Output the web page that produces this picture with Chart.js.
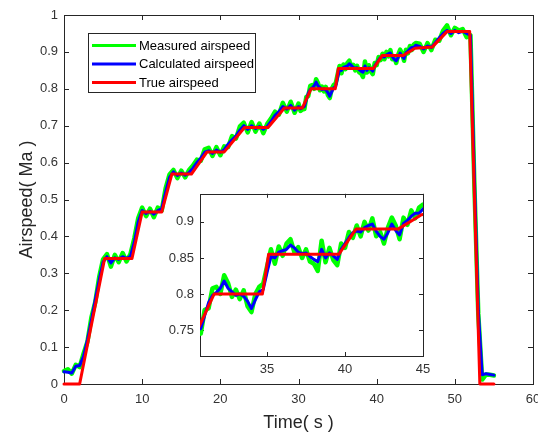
<!DOCTYPE html>
<html>
<head>
<meta charset="utf-8">
<script src="https://cdn.jsdelivr.net/npm/chart.js@4"></script>
<style>
  html, body { margin: 0; padding: 0; background: #fff; }
  #wrap { position: relative; width: 538px; height: 436px; }
  #main { position: absolute; left: 0; top: 0; }
  #zoom { position: absolute; left: 160px; top: 180px; }
</style>
</head>
<body>
<div id="wrap">
  <canvas id="main" width="538" height="436"></canvas>
  <canvas id="zoom" width="280" height="200"></canvas>
</div>
<script>
// sample times (s): 0.5 s steps, 0.25 s inside the zoomed window
const timeS = [
  0, 0.5, 1, 1.5, 2, 2.5, 3, 3.5, 4, 4.5,
  5, 5.5, 6, 6.5, 7, 7.5, 8, 8.5, 9, 9.5,
  10, 10.5, 11, 11.5, 12, 12.5, 13, 13.5, 14, 14.5,
  15, 15.5, 16, 16.5, 17, 17.5, 18, 18.5, 19, 19.5,
  20, 20.5, 21, 21.5, 22, 22.5, 23, 23.5, 24, 24.5,
  25, 25.5, 26, 26.5, 27, 27.5, 28, 28.5, 29, 29.5,
  30,
  30.25, 30.5, 30.75, 31, 31.25, 31.5, 31.75, 32, 32.25, 32.5,
  32.75, 33, 33.25, 33.5, 33.75, 34, 34.25, 34.5, 34.75, 35,
  35.25, 35.5, 35.75, 36, 36.25, 36.5, 36.75, 37, 37.25, 37.5,
  37.75, 38, 38.25, 38.5, 38.75, 39, 39.25, 39.5, 39.75, 40,
  40.25, 40.5, 40.75, 41, 41.25, 41.5, 41.75, 42, 42.25, 42.5,
  42.75, 43, 43.25, 43.5, 43.75, 44, 44.25, 44.5, 44.75, 45,
  45.5, 46, 46.5, 47, 47.5, 48, 48.5, 49, 49.5, 50,
  50.5, 51, 51.5, 52, 52.5, 53, 53.5, 54, 54.5, 55
];

const measuredMa = [
  0.035, 0.040, 0.028, 0.052, 0.046, 0.082, 0.115, 0.180, 0.222, 0.290,
  0.338, 0.352, 0.318, 0.350, 0.330, 0.355, 0.332, 0.352, 0.395, 0.450,
  0.478, 0.455, 0.475, 0.452, 0.478, 0.470, 0.530, 0.568, 0.580, 0.558,
  0.578, 0.560, 0.580, 0.592, 0.608, 0.605, 0.636, 0.640, 0.618, 0.642,
  0.620, 0.644, 0.642, 0.672, 0.665, 0.698, 0.708, 0.682, 0.710, 0.684,
  0.706, 0.680, 0.705, 0.720, 0.738, 0.730, 0.762, 0.738, 0.765, 0.735,
  0.760,
  0.740, 0.744, 0.745, 0.778, 0.780, 0.808, 0.810, 0.800, 0.826, 0.815,
  0.796, 0.806, 0.793, 0.805, 0.783, 0.775, 0.800, 0.810, 0.814, 0.838,
  0.862, 0.842, 0.866, 0.853, 0.870, 0.876, 0.858, 0.865, 0.850, 0.862,
  0.845, 0.842, 0.832, 0.874, 0.844, 0.864, 0.847, 0.840, 0.870, 0.864,
  0.886, 0.878, 0.895, 0.880, 0.900, 0.888, 0.905, 0.880, 0.886, 0.870,
  0.892, 0.906, 0.895, 0.876, 0.906, 0.896, 0.916, 0.905, 0.920, 0.924,
  0.922, 0.900, 0.924, 0.905, 0.933, 0.930, 0.958, 0.972, 0.945, 0.965,
  0.958, 0.962, 0.940, 0.945, 0.540, 0.190, 0.012, 0.026, 0.025, 0.023
];

const calculatedMa = [
  0.033, 0.032, 0.030, 0.048, 0.050, 0.075, 0.120, 0.172, 0.228, 0.282,
  0.330, 0.345, 0.328, 0.342, 0.338, 0.345, 0.340, 0.346, 0.385, 0.440,
  0.470, 0.462, 0.468, 0.460, 0.470, 0.475, 0.520, 0.560, 0.575, 0.565,
  0.572, 0.566, 0.573, 0.585, 0.600, 0.612, 0.628, 0.632, 0.625, 0.634,
  0.628, 0.635, 0.650, 0.662, 0.672, 0.688, 0.700, 0.690, 0.700, 0.692,
  0.698, 0.690, 0.698, 0.712, 0.728, 0.738, 0.752, 0.745, 0.755, 0.742,
  0.752,
  0.746, 0.750, 0.752, 0.770, 0.788, 0.798, 0.802, 0.808, 0.818, 0.808,
  0.803, 0.798, 0.800, 0.797, 0.790, 0.780, 0.792, 0.803, 0.806, 0.830,
  0.852, 0.850, 0.858, 0.860, 0.862, 0.868, 0.864, 0.858, 0.856, 0.857,
  0.852, 0.848, 0.845, 0.862, 0.850, 0.857, 0.853, 0.848, 0.862, 0.870,
  0.878, 0.885, 0.888, 0.886, 0.892, 0.895, 0.897, 0.887, 0.880, 0.876,
  0.885, 0.897, 0.888, 0.882, 0.898, 0.902, 0.908, 0.912, 0.912, 0.918,
  0.915, 0.908, 0.916, 0.912, 0.925, 0.938, 0.950, 0.958, 0.950, 0.958,
  0.952, 0.956, 0.950, 0.945, 0.560, 0.200, 0.025, 0.028, 0.026, 0.024
];

// true airspeed is piecewise linear, so only its corners are listed
const trueTimeS = [0, 2, 5.2, 8.7, 10, 12.5, 13.8, 16.3, 18.3, 20.5, 23.1, 26.1, 28.2,
  30.5, 31.6, 34.7, 35.1, 39.6, 40.7, 43.4, 44.9, 47.1, 49, 51.9, 53.2, 55];
const trueMa = [0, 0, 0.34, 0.34, 0.466, 0.466, 0.569, 0.569, 0.629, 0.629, 0.695, 0.695, 0.748,
  0.748, 0.80, 0.80, 0.855, 0.855, 0.89, 0.89, 0.91, 0.913, 0.955, 0.955, 0, 0];

const FONT = "'Liberation Sans', Arial, Helvetica, sans-serif";
Chart.defaults.font.family = FONT;
Chart.defaults.color = '#333';

const pts = (xs, ys) => xs.map((x, i) => ({ x: x, y: ys[i] }));
const trimNum = v => String(+v.toFixed(2));

function airspeedSets(clip) {
  return [
    { label: 'Measured airspeed', data: pts(timeS, measuredMa), borderColor: '#00ff00', borderWidth: 4.5, order: 2 },
    { label: 'Calculated airspeed', data: pts(timeS, calculatedMa), borderColor: '#0000ff', borderWidth: 3, order: 1 },
    { label: 'True airspeed', data: pts(trueTimeS, trueMa), borderColor: '#ff0000', borderWidth: 3, order: 0 }
  ].map(d => Object.assign(d, {
    pointRadius: 0, tension: 0, clip: clip, fill: false,
    borderJoinStyle: 'round', borderCapStyle: 'round'
  }));
}

// box round the plot area with inward ticks on all four sides
const axesBox = {
  id: 'axesBox',
  beforeDatasetsDraw(chart, args, opts) {
    const { ctx, chartArea: a, scales } = chart;
    const len = opts.tickLen || 5;
    ctx.save();
    ctx.fillStyle = '#fff';
    ctx.fillRect(a.left, a.top, a.width, a.height);
    ctx.strokeStyle = '#262626';
    ctx.lineWidth = 1;
    ctx.beginPath();
    scales.x.ticks.forEach(t => {
      const px = Math.round(scales.x.getPixelForValue(t.value)) + 0.5;
      ctx.moveTo(px, a.bottom); ctx.lineTo(px, a.bottom - len);
      ctx.moveTo(px, a.top); ctx.lineTo(px, a.top + len);
    });
    scales.y.ticks.forEach(t => {
      const py = Math.round(scales.y.getPixelForValue(t.value)) + 0.5;
      ctx.moveTo(a.left, py); ctx.lineTo(a.left + len, py);
      ctx.moveTo(a.right, py); ctx.lineTo(a.right - len, py);
    });
    ctx.stroke();
    ctx.strokeRect(Math.round(a.left) + 0.5, Math.round(a.top) + 0.5,
      Math.round(a.width), Math.round(a.height));
    ctx.restore();
  }
};

// legend box in the upper left corner of the plot
const legendBox = {
  id: 'legendBox',
  afterDraw(chart) {
    const ctx = chart.ctx;
    const x0 = 88, y0 = 33, w = 167, h = 59;
    ctx.save();
    ctx.fillStyle = '#fff';
    ctx.fillRect(x0, y0, w, h);
    ctx.strokeStyle = '#262626';
    ctx.lineWidth = 1;
    ctx.strokeRect(x0 + 0.5, y0 + 0.5, w, h);
    ctx.font = '13px ' + FONT;
    ctx.textBaseline = 'middle';
    chart.data.datasets.forEach((ds, i) => {
      const yy = y0 + 12.5 + i * 18.5;
      ctx.strokeStyle = ds.borderColor;
      ctx.lineWidth = 3;
      ctx.beginPath();
      ctx.moveTo(x0 + 4, yy);
      ctx.lineTo(x0 + 48, yy);
      ctx.stroke();
      ctx.fillStyle = '#000';
      ctx.fillText(ds.label, x0 + 51, yy + 0.5);
    });
    ctx.restore();
  }
};

new Chart(document.getElementById('main'), {
  type: 'line',
  data: { datasets: airspeedSets(6) },
  options: {
    responsive: false,
    animation: false,
    events: [],
    layout: { padding: { top: 15, right: 5, left: 0, bottom: 0 } },
    plugins: {
      legend: { display: false },
      tooltip: { enabled: false },
      axesBox: { tickLen: 5 }
    },
    scales: {
      x: {
        type: 'linear', min: 0, max: 60,
        grid: { display: false, drawTicks: false },
        border: { display: false },
        ticks: { stepSize: 10, padding: 8, maxRotation: 0, font: { size: 13 } },
        title: { display: true, text: 'Time( s )', color: '#262626', font: { size: 18 }, padding: { top: 0, bottom: 2 } },
        afterFit(s) { s.height = 52; s.paddingLeft = 0; s.paddingRight = 0; }
      },
      y: {
        min: 0, max: 1,
        grid: { display: false, drawTicks: false },
        border: { display: false },
        ticks: { stepSize: 0.1, padding: 6, font: { size: 13 }, callback: trimNum },
        title: { display: true, text: 'Airspeed( Ma )', color: '#262626', font: { size: 18 }, padding: { top: 16, bottom: 0 } },
        afterFit(s) { s.width = 64; }
      }
    }
  },
  plugins: [axesBox, legendBox]
});

// zoomed view of the 31-45 s climb
new Chart(document.getElementById('zoom'), {
  type: 'line',
  data: { datasets: airspeedSets(0) },
  options: {
    responsive: false,
    animation: false,
    events: [],
    layout: { padding: { top: 9, right: 17, left: 0, bottom: 0 } },
    plugins: {
      legend: { display: false },
      tooltip: { enabled: false },
      axesBox: { tickLen: 4 }
    },
    scales: {
      x: {
        type: 'linear', min: 30.7, max: 45,
        grid: { display: false, drawTicks: false },
        border: { display: false },
        ticks: { stepSize: 5, includeBounds: false, padding: 6, maxRotation: 0, font: { size: 13 } },
        afterFit(s) { s.height = 24; s.paddingLeft = 0; s.paddingRight = 0; }
      },
      y: {
        min: 0.714, max: 0.939,
        grid: { display: false, drawTicks: false },
        border: { display: false },
        ticks: { stepSize: 0.05, includeBounds: false, padding: 6, font: { size: 13 }, callback: trimNum },
        afterFit(s) { s.width = 40; }
      }
    }
  },
  plugins: [axesBox]
});
</script>
</body>
</html>
